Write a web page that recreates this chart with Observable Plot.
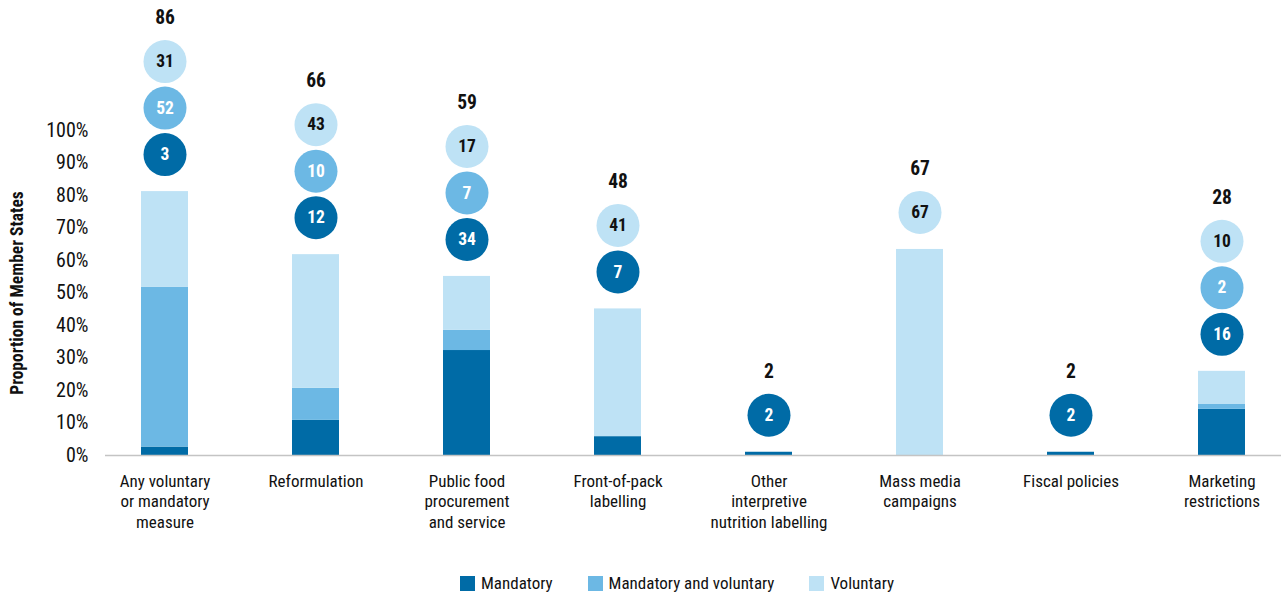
<!DOCTYPE html>
<html>
<head>
<meta charset="utf-8">
<script src="https://cdn.jsdelivr.net/npm/d3@7"></script>
<script src="https://cdn.jsdelivr.net/npm/@observablehq/plot@0.6"></script>
<style>
  body { margin: 0; background: #fff; color: #111;
         font-family: "Roboto", sans-serif; font-stretch: 75%; }
  #chart svg { display: block; overflow: visible; font-stretch: 75%; }
  #chart svg text { font-stretch: 75%; }
  #legend { display: flex; align-items: center; margin-left: 460px; margin-top: 28px;
            font-size: 17px; line-height: 20px; }
  #legend .item { display: flex; align-items: center; margin-right: 35px; }
  #legend .sw { width: 15px; height: 15px; margin-right: 6px; }
</style>
</head>
<body>
<div id="chart"></div>
<div id="legend"></div>
<script>
// ---- data ----
const categories = [
  "Any voluntary\nor mandatory\nmeasure",
  "Reformulation",
  "Public food\nprocurement\nand service",
  "Front-of-pack\nlabelling",
  "Other\ninterpretive\nnutrition labelling",
  "Mass media\ncampaigns",
  "Fiscal policies",
  "Marketing\nrestrictions"
];
const series = ["Mandatory", "Mandatory and voluntary", "Voluntary"];
const colors = ["#006BA6", "#6CB8E4", "#BEE2F5"];

// bar segment heights (% of Member States)
const barMandatory  = [2.6, 10.8, 32.3, 5.8, 1.0, 0,    1.0, 14.2];
const barMandVol    = [49.2, 9.9,  6.2, 0,   0,   0,    0,   1.5];
const barVoluntary  = [29.4, 41.1, 16.6, 39.3, 0, 63.4, 0,   10.2];

// numbers in the circles
const labelMandatory = [3, 12, 34, 7, 2, null, 2, 16];
const labelMandVol   = [52, 10, 7, null, null, null, null, 2];
const labelVoluntary = [31, 43, 17, 41, null, 67, null, 10];
const labelTotal     = [86, 66, 59, 48, 2, 67, 2, 28];

const yTicks = [0, 10, 20, 30, 40, 50, 60, 70, 80, 90, 100];
const yTitle = "Proportion of Member States";

// ---- build tables ----
const barValues = [barMandatory, barMandVol, barVoluntary];
const labelValues = [labelMandatory, labelMandVol, labelVoluntary];
const bars = categories.flatMap((c, i) =>
  series.map((s, j) => ({category: c, series: s, value: barValues[j][i]})));
const tops = categories.map((c, i) => d3.sum(barValues, a => a[i]));
const bubbles = [];
categories.forEach((c, i) => {
  let k = 0;
  series.forEach((s, j) => {
    const v = labelValues[j][i];
    if (v != null) bubbles.push({category: c, series: s, label: v, top: tops[i], k: k++});
  });
});
const totals = categories.map((c, i) => ({
  category: c, label: labelTotal[i], top: tops[i],
  n: bubbles.filter(b => b.category === c).length
}));

const base = 37, step = 46.5, gapTotal = 44;

const marks = [
  Plot.barY(bars, {x: "category", y: "value", fill: "series"}),
  Plot.ruleY([0], {stroke: "#c4c4c4", strokeWidth: 1.5})
];
[0, 1, 2].forEach(k => {
  const dy = -(base + step * k);
  marks.push(
    Plot.dot(bubbles.filter(b => b.k === k), {x: "category", y: "top", r: 21.5, fill: "series", dy}),
    Plot.text(bubbles.filter(b => b.k === k && b.series !== "Voluntary"),
      {x: "category", y: "top", text: d => String(d.label), fill: "white", fontWeight: "bold", fontSize: 17.5, dy}),
    Plot.text(bubbles.filter(b => b.k === k && b.series === "Voluntary"),
      {x: "category", y: "top", text: d => String(d.label), fill: "#111", fontWeight: "bold", fontSize: 17.5, dy})
  );
});
[1, 2, 3].forEach(n => {
  marks.push(Plot.text(totals.filter(t => t.n === n),
    {x: "category", y: "top", text: d => String(d.label), fill: "#111", fontWeight: "bold", fontSize: 19.5,
     dy: -(base + step * (n - 1) + gapTotal)}));
});
marks.push(
  Plot.axisY({ticks: yTicks, tickFormat: d => d + "%", tickSize: 0, tickPadding: 17, fontSize: 20, label: null}),
  Plot.axisX({tickSize: 0, tickPadding: 17, fontSize: 17, lineHeight: 1.2, label: null}),
  Plot.text([yTitle], {frameAnchor: "left", textAnchor: "middle", dx: -88, rotate: -90, fontWeight: "bold", fontSize: 17.5, fill: "#111"})
);

const chart = Plot.plot({
  width: 1287,
  height: 545,
  marginLeft: 105,
  marginRight: 6,
  marginTop: 130,
  marginBottom: 90,
  style: {fontFamily: '"Roboto", sans-serif', overflow: "visible", color: "#111"},
  x: {domain: categories, paddingInner: 0.687, paddingOuter: 0.217},
  y: {domain: [0, 100]},
  color: {domain: series, range: colors},
  marks
});
document.getElementById("chart").appendChild(chart);

// legend
const legend = document.getElementById("legend");
series.forEach((s, j) => {
  const item = document.createElement("div");
  item.className = "item";
  const sw = document.createElement("div");
  sw.className = "sw";
  sw.style.background = colors[j];
  const t = document.createElement("span");
  t.textContent = s;
  item.appendChild(sw); item.appendChild(t);
  legend.appendChild(item);
});
</script>
</body>
</html>
